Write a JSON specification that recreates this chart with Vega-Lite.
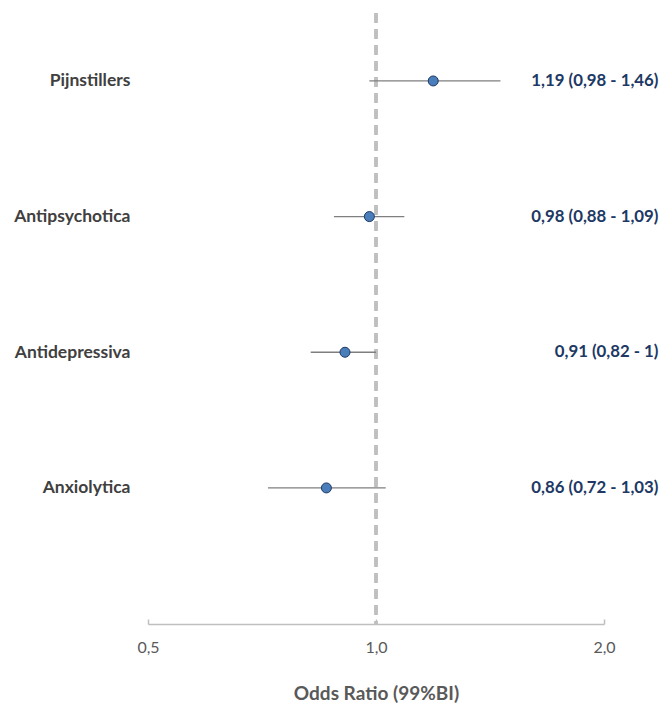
{
  "$schema": "https://vega.github.io/schema/vega-lite/v6.json",
  "autosize": "none",
  "padding": {"left": 148, "top": 13, "right": 57, "bottom": 82},
  "width": 456,
  "height": 611,
  "background": "white",
  "config": {"view": {"stroke": null}, "font": "Lato"},
  "data": {"values": [
    {"groep": "Pijnstillers", "or": 1.19, "lo": 0.98, "hi": 1.46, "label": "1,19 (0,98 - 1,46)"},
    {"groep": "Antipsychotica", "or": 0.98, "lo": 0.88, "hi": 1.09, "label": "0,98 (0,88 - 1,09)"},
    {"groep": "Antidepressiva", "or": 0.91, "lo": 0.82, "hi": 1.00, "label": "0,91 (0,82 - 1)"},
    {"groep": "Anxiolytica", "or": 0.86, "lo": 0.72, "hi": 1.03, "label": "0,86 (0,72 - 1,03)"}
  ]},
  "encoding": {
    "y": {
      "field": "groep", "type": "nominal",
      "scale": {"type": "point", "domain": ["Pijnstillers", "Antipsychotica", "Antidepressiva", "Anxiolytica"], "padding": 0.752, "align": 0.333},
      "axis": {"title": null, "domain": false, "ticks": false, "labelPadding": 18, "labelFontSize": 17.5, "labelFontWeight": "bold", "labelColor": "#404040", "labelFont": "Lato"}
    }
  },
  "layer": [
    {
      "mark": {"type": "rule", "strokeDash": [10, 6], "color": "#bfbfbf", "strokeWidth": 3},
      "encoding": {"x": {"datum": 1, "type": "quantitative"}, "y": null}
    },
    {
      "mark": {"type": "rule", "color": "#7f7f7f", "strokeWidth": 1.3},
      "encoding": {
        "x": {
          "field": "lo", "type": "quantitative",
          "scale": {"type": "log", "domain": [0.5, 2], "nice": false},
          "axis": {
            "title": "Odds Ratio (99%BI)", "values": [0.5, 1, 2],
            "labelExpr": "replace(format(datum.value, '.1f'), '.', ',')",
            "labelFlush": false,
            "grid": false, "domainColor": "#bfbfbf", "domainWidth": 1.5,
            "tickColor": "#bfbfbf", "tickSize": -5, "tickWidth": 1.5,
            "labelPadding": 20, "labelFontSize": 16, "labelColor": "#595959", "labelFont": "Lato",
            "titleFontSize": 19, "titleFontWeight": "bold", "titleColor": "#595959", "titlePadding": 29, "titleFont": "Lato"
          }
        },
        "x2": {"field": "hi"}
      }
    },
    {
      "mark": {"type": "point", "filled": true, "size": 100, "fill": "#4a7ebb", "stroke": "#1f3864", "strokeWidth": 1, "opacity": 1},
      "encoding": {"x": {"field": "or", "type": "quantitative"}}
    },
    {
      "mark": {"type": "text", "align": "right", "baseline": "middle", "fontSize": 16.8, "fontWeight": "bold", "color": "#203864", "font": "Lato", "clip": false},
      "encoding": {"x": {"datum": 2.36, "type": "quantitative"}, "text": {"field": "label"}}
    }
  ]
}
